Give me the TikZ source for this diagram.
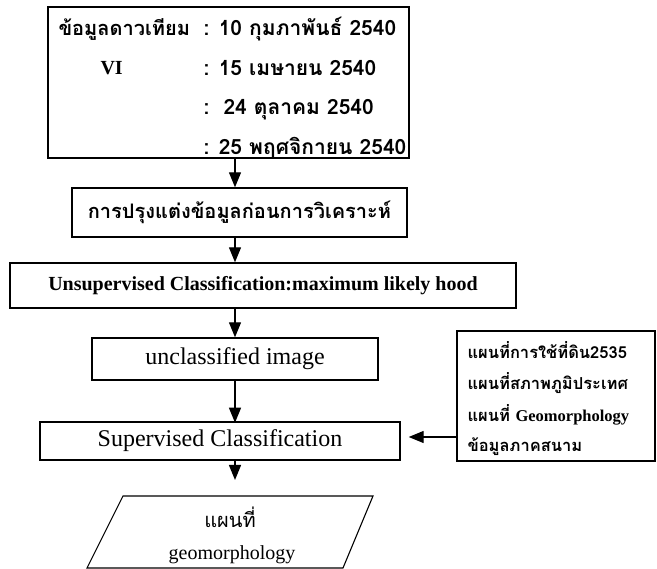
\documentclass[tikz,border=0pt]{standalone}
\usepackage{fontspec}
\setmainfont{Liberation Serif}
\newfontfamily\thaifont[Script=Thai]{Loma}
\usetikzlibrary{calc,positioning,arrows.meta}

\begin{document}
\begin{tikzpicture}[x=1pt,y=-1pt,
  box/.style={draw,line width=1.4pt,inner sep=0pt,align=center},
  arr/.style={line width=1.3pt,-{Triangle[length=15pt,width=12pt]}},
  thb/.style={font=\thaifont\bfseries\fontsize{21}{24}\selectfont},
  ths/.style={font=\thaifont\bfseries\fontsize{16.5}{19}\selectfont}]
  \useasboundingbox (0,0) rectangle (657,569);
  \coordinate (ax) at (235,0);
  \coordinate (hy) at (0,437);

  % satellite data
  \node[box,minimum width=361pt,minimum height=151pt] (sat) at (228.5,82.5) {};
  \node[thb,font=\thaifont\bfseries\fontsize{20}{22}\selectfont,anchor=base west] (satname) at (55,36) {ข้อมูลดาวเทียม};
  \node[anchor=base west,font=\bfseries\fontsize{20}{22}\selectfont] (vi) at (97,75) {VI};
  \foreach \d [count=\i] in {{: 10 กุมภาพันธ์ 2540},{: 15 เมษายน 2540},{:\ \ 24 ตุลาคม 2540},{: 25 พฤศจิกายน 2540}}
    \node[thb,anchor=base west] (date\i) at (200,{36+39.5*(\i-1)}) {\d};

  % processing steps
  \node[box,font=\thaifont\bfseries\fontsize{20}{22}\selectfont,minimum width=335pt,minimum height=49pt] (prep) at (239.5,212.5)
    {การปรุงแต่งข้อมูลก่อนการวิเคราะห์};
  \node[box,minimum width=506pt,minimum height=45pt,font=\bfseries\fontsize{20}{22}\selectfont] (unsup) at (263,285.5)
    {Unsupervised Classification:maximum likely hood};
  \node[box,minimum width=286pt,minimum height=42pt,font=\fontsize{24}{26}\selectfont] (uncl) at (235,359) {unclassified image};
  \node[box,minimum width=360pt,minimum height=38pt,font=\fontsize{24}{26}\selectfont] (sup) at (220,441) {Supervised Classification};

  % ancillary data
  \node[box,minimum width=198pt,minimum height=130pt] (anc) at (556,396) {};
  \node[ths,anchor=west] (anc1) at (464,350) {แผนที่การใช้ที่ดิน2535};
  \node[ths,anchor=west] (anc2) at (464,383) {แผนที่สภาพภูมิประเทศ};
  \node[ths,anchor=west] (anc3) at (464,415) {แผนที่ {\rmfamily Geomorphology}};
  \node[ths,anchor=west] (anc4) at (464,447) {ข้อมูลภาคสนาม};

  % output map
  \coordinate (m1) at (123,496);
  \coordinate (m2) at (373,496);
  \coordinate (m3) at (343,568);
  \coordinate (m4) at (87,568);
  \draw[line width=1.1pt] (m1) -- (m2) -- (m3) -- (m4) -- cycle;
  \node[font=\thaifont\fontsize{20}{22}\selectfont] (map1) at (230,517) {แผนที่};
  \node[font=\fontsize{20}{22}\selectfont] (map2) at (232,555) {geomorphology};

  \draw[arr] (sat.south -| ax) -- (prep.north -| ax);
  \draw[arr] (prep.south -| ax) -- (unsup.north -| ax);
  \draw[arr] (unsup.south -| ax) -- (uncl.north -| ax);
  \draw[arr] (uncl.south -| ax) -- ++(0,42);
  \draw[arr,shorten >=16pt] (sup.south -| ax) -- (m1 -| ax);
  \draw[arr,shorten >=8pt] (anc.west |- hy) -- (sup.east |- hy);
\end{tikzpicture}
\end{document}
